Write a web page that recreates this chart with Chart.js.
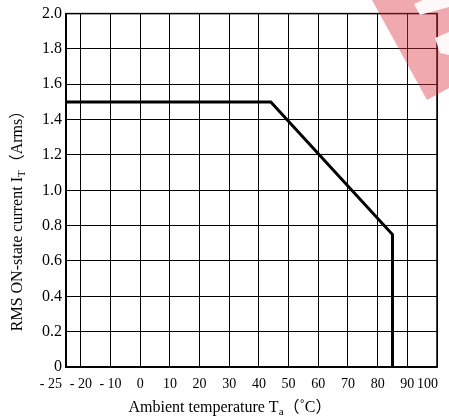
<!DOCTYPE html>
<html><head><meta charset="utf-8">
<script src="https://cdn.jsdelivr.net/npm/chart.js@4/dist/chart.umd.min.js"></script>
<style>
html,body{margin:0;padding:0;background:#fff;}
#wrap{position:relative;width:449px;height:419px;overflow:hidden;}
#wm{position:absolute;left:0;top:0;width:449px;height:419px;pointer-events:none;}
canvas{display:block;}
</style></head><body>
<div id="wrap">
<canvas id="c" width="449" height="419"></canvas>
<svg id="wm" width="449" height="419" viewBox="0 0 449 419">
  <polygon points="372,0 449,0 449,88 427,100" fill="rgba(220,50,65,0.42)"/>
  <polygon points="414,4 449,-12 449,7 420,15" fill="#fff" opacity="0.92"/>
  <polygon points="435,38 449,32 449,55 440,53" fill="#fff" opacity="0.92"/>
</svg>
</div>
<script>
// ---- data ----
const temps   = [-25, 44, 85, 85];          // Ambient temperature (°C)
const current = [1.5, 1.5, 0.75, 0];        // RMS ON-state current (Arms)
const xTickValues = [-25, -20, -10, 0, 10, 20, 30, 40, 50, 60, 70, 80, 90, 100];
const xTickLabels = ['- 25', '- 20', '- 10', '0', '10', '20', '30', '40', '50', '60', '70', '80', '90', '100'];
const yTickValues = [0, 0.2, 0.4, 0.6, 0.8, 1.0, 1.2, 1.4, 1.6, 1.8, 2.0];
const yTickLabels = ['0', '0.2', '0.4', '0.6', '0.8', '1.0', '1.2', '1.4', '1.6', '1.8', '2.0'];

const SERIF = '"Liberation Serif", "Times New Roman", serif';

const xLabels = {
  id: 'xLabels',
  afterDraw(chart) {
    const ctx = chart.ctx, xs = chart.scales.x, a = chart.chartArea;
    ctx.save();
    ctx.fillStyle = '#000';
    ctx.font = '14px ' + SERIF;
    ctx.textBaseline = 'middle';
    xTickValues.forEach((v, i) => {
      const px = xs.getPixelForValue(v);
      const last = i === xTickValues.length - 1;
      if (i === 0) { ctx.textAlign = 'right'; ctx.fillText(xTickLabels[i], px - 4, a.bottom + 17); }
      else if (last) { ctx.textAlign = 'right'; ctx.fillText(xTickLabels[i], px + 1, a.bottom + 17); }
      else { ctx.textAlign = 'center'; ctx.fillText(xTickLabels[i], px, a.bottom + 17); }
    });
    ctx.restore();
  }
};

const axisTitles = {
  id: 'axisTitles',
  afterDraw(chart) {
    const ctx = chart.ctx;
    const drawParts = (parts, x, y) => {
      let total = 0;
      parts.forEach(p => { ctx.font = p.font; total += ctx.measureText(p.text).width; });
      let cx = x - total / 2;
      parts.forEach(p => {
        ctx.font = p.font;
        ctx.fillText(p.text, cx, y + (p.dy || 0));
        cx += ctx.measureText(p.text).width;
      });
    };
    const main = '16px ' + SERIF;
    const sub = '11px ' + SERIF;
    const cjk = '16px "Noto Sans CJK JP", ' + SERIF;
    ctx.save();
    ctx.fillStyle = '#000';
    ctx.textBaseline = 'alphabetic';
    ctx.textAlign = 'left';
    drawParts([
      {text: 'Ambient temperature T', font: main},
      {text: 'a', font: sub, dy: 3},
      {text: '（', font: cjk},
      {text: '˚C', font: main},
      {text: '）', font: cjk}
    ], 230, 412);
    ctx.translate(22, 217);
    ctx.rotate(-Math.PI / 2);
    drawParts([
      {text: 'RMS ON-state current I', font: main},
      {text: 'T', font: sub, dy: 3},
      {text: '（', font: cjk},
      {text: 'Arms', font: main},
      {text: '）', font: cjk}
    ], 0, 0);
    ctx.restore();
  }
};

new Chart(document.getElementById('c'), {
  type: 'scatter',
  data: {
    datasets: [{
      data: temps.map((t, i) => ({x: t, y: current[i]})),
      showLine: true,
      borderColor: '#000',
      borderWidth: 3,
      pointRadius: 0,
      fill: false,
      tension: 0
    }]
  },
  options: {
    responsive: false,
    devicePixelRatio: 1,
    animation: false,
    layout: {padding: {top: 12, right: 12, left: 0, bottom: 0}},
    plugins: {legend: {display: false}, tooltip: {enabled: false}, title: {display: false}},
    scales: {
      x: {
        type: 'linear', min: -25, max: 100,
        afterBuildTicks: s => { s.ticks = xTickValues.map(v => ({value: v})); },
        afterFit: s => { s.height = 52; },
        ticks: {display: false, autoSkip: false},
        grid: {color: '#000', lineWidth: 1, drawTicks: false},
        border: {color: '#000', width: 1.5}
      },
      y: {
        type: 'linear', min: 0, max: 2,
        afterBuildTicks: s => { s.ticks = yTickValues.map(v => ({value: v})); },
        afterFit: s => { s.width = 66; },
        ticks: {
          autoSkip: false, padding: 4, color: '#000',
          font: {family: SERIF, size: 16},
          callback: (v, i) => yTickLabels[i]
        },
        grid: {color: '#000', lineWidth: 1, drawTicks: false},
        border: {color: '#000', width: 1.5}
      }
    }
  },
  plugins: [xLabels, axisTitles, {
    id: 'frame',
    afterDatasetsDraw(chart) {
      const a = chart.chartArea, ctx = chart.ctx;
      ctx.save();
      ctx.strokeStyle = '#000';
      ctx.lineWidth = 1.5;
      ctx.strokeRect(a.left, a.top, a.right - a.left, a.bottom - a.top);
      ctx.restore();
    }
  }]
});
</script>
</body></html>
